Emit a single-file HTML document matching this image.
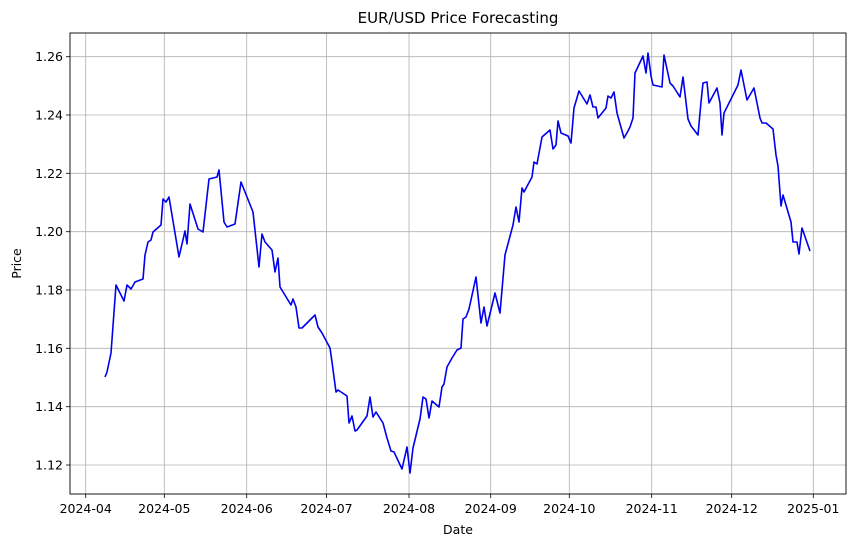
<!DOCTYPE html>
<html><head><meta charset="utf-8"><style>
html,body{margin:0;padding:0;background:#fff;}
svg{display:block;font-family:"DejaVu Sans","Liberation Sans",sans-serif;}
</style></head><body>
<svg width="855" height="547" viewBox="0 0 855 547" xmlns="http://www.w3.org/2000/svg">
<rect width="855" height="547" fill="#fff"/>
<g stroke="#b0b0b0" stroke-width="0.8">
<line x1="85.7" y1="33" x2="85.7" y2="494"/>
<line x1="164.3" y1="33" x2="164.3" y2="494"/>
<line x1="246.7" y1="33" x2="246.7" y2="494"/>
<line x1="326.5" y1="33" x2="326.5" y2="494"/>
<line x1="409" y1="33" x2="409" y2="494"/>
<line x1="490.7" y1="33" x2="490.7" y2="494"/>
<line x1="569.3" y1="33" x2="569.3" y2="494"/>
<line x1="651.7" y1="33" x2="651.7" y2="494"/>
<line x1="731.7" y1="33" x2="731.7" y2="494"/>
<line x1="813.3" y1="33" x2="813.3" y2="494"/>
<line x1="70" y1="465" x2="846" y2="465"/>
<line x1="70" y1="406.7" x2="846" y2="406.7"/>
<line x1="70" y1="348.3" x2="846" y2="348.3"/>
<line x1="70" y1="290" x2="846" y2="290"/>
<line x1="70" y1="231.7" x2="846" y2="231.7"/>
<line x1="70" y1="173.3" x2="846" y2="173.3"/>
<line x1="70" y1="115" x2="846" y2="115"/>
<line x1="70" y1="56.7" x2="846" y2="56.7"/>
</g>
<polyline fill="none" stroke="#0000ee" stroke-width="1.6" stroke-linejoin="round" points="105,377 107,372 111,353 116,285 124,301 127,285 131,289 135,282 143,279 145,255 148,242 151,240 153,232 161,225 163,199 166,202 169,197 179,257 185,231 187,244 190,204 198,229 203,232 209,179 217,177 219,170 224,222 227,227 235,224 241,182 253,212 259,267 262,234 265,242 272,250 275,272 278,258 280,287 291,305 293,299 296,307 299,328 302,328 308,322 315,315 318,327 322,333 330,348 332,362 336,392 338,390 347,396 349,423 352,416 355,431 357,430 367,416 370,397 373,417 376,412 383,423 387,438 391,451 394,452 402,469 407,447 410,473 413,448 420,419 423,397 426,399 429,418 432,401 439,407 442,387 444,384 447,367 452,358 457,350 461,348 463,319 466,317 469,309 476,277 481,323 484,307 487,326 495,293 500,313 505,255 509,240 513,225 516,207 519,222 522,188 524,192 532,177 534,162 537,164 542,137 550,130 553,149 556,145 558,121 561,133 568,136 571,143 574,108 579,91 587,104 590,95 593,107 596,107 598,118 606,108 608,96 611,98 614,92 617,113 624,138 628,131 630,127 633,118 635,73 643,56 646,73 648,53 651,76 653,85 662,87 664,55 670,83 673,86 680,97 683,77 688,119 691,126 698,135 701,102 703,83 707,82 709,103 717,88 720,103 722,135 724,113 738,85 741,70 747,100 754,88 760,118 762,123 766,123 773,129 776,155 778,166 781,206 783,195 791,222 793,242 797,242 799,254 802,228 810,251"/>
<rect x="70" y="33" width="776" height="461" fill="none" stroke="#000" stroke-width="0.9"/>
<g stroke="#000" stroke-width="0.8">
<line x1="85.7" y1="494" x2="85.7" y2="498"/><line x1="164.3" y1="494" x2="164.3" y2="498"/>
<line x1="246.7" y1="494" x2="246.7" y2="498"/><line x1="326.5" y1="494" x2="326.5" y2="498"/>
<line x1="409" y1="494" x2="409" y2="498"/><line x1="490.7" y1="494" x2="490.7" y2="498"/>
<line x1="569.3" y1="494" x2="569.3" y2="498"/><line x1="651.7" y1="494" x2="651.7" y2="498"/>
<line x1="731.7" y1="494" x2="731.7" y2="498"/><line x1="813.3" y1="494" x2="813.3" y2="498"/>
<line x1="66" y1="465" x2="70" y2="465"/><line x1="66" y1="406.7" x2="70" y2="406.7"/>
<line x1="66" y1="348.3" x2="70" y2="348.3"/><line x1="66" y1="290" x2="70" y2="290"/>
<line x1="66" y1="231.7" x2="70" y2="231.7"/><line x1="66" y1="173.3" x2="70" y2="173.3"/>
<line x1="66" y1="115" x2="70" y2="115"/><line x1="66" y1="56.7" x2="70" y2="56.7"/>
</g>
<g font-size="12.5" fill="#000" text-anchor="middle">
<text x="85.7" y="513">2024-04</text><text x="164.3" y="513">2024-05</text>
<text x="246.7" y="513">2024-06</text><text x="326.5" y="513">2024-07</text>
<text x="409" y="513">2024-08</text><text x="490.7" y="513">2024-09</text>
<text x="569.3" y="513">2024-10</text><text x="651.7" y="513">2024-11</text>
<text x="731.7" y="513">2024-12</text><text x="813.3" y="513">2025-01</text>
</g>
<g font-size="12.5" fill="#000" text-anchor="end">
<text x="63" y="469.5">1.12</text><text x="63" y="411.2">1.14</text>
<text x="63" y="352.8">1.16</text><text x="63" y="294.5">1.18</text>
<text x="63" y="236.2">1.20</text><text x="63" y="177.8">1.22</text>
<text x="63" y="119.5">1.24</text><text x="63" y="61.2">1.26</text>
</g>
<text x="458" y="534" font-size="12.5" text-anchor="middle">Date</text>
<text transform="translate(21,263.5) rotate(-90)" font-size="12.5" text-anchor="middle">Price</text>
<text x="458" y="23" font-size="15" text-anchor="middle">EUR/USD Price Forecasting</text>
</svg>
</body></html>
